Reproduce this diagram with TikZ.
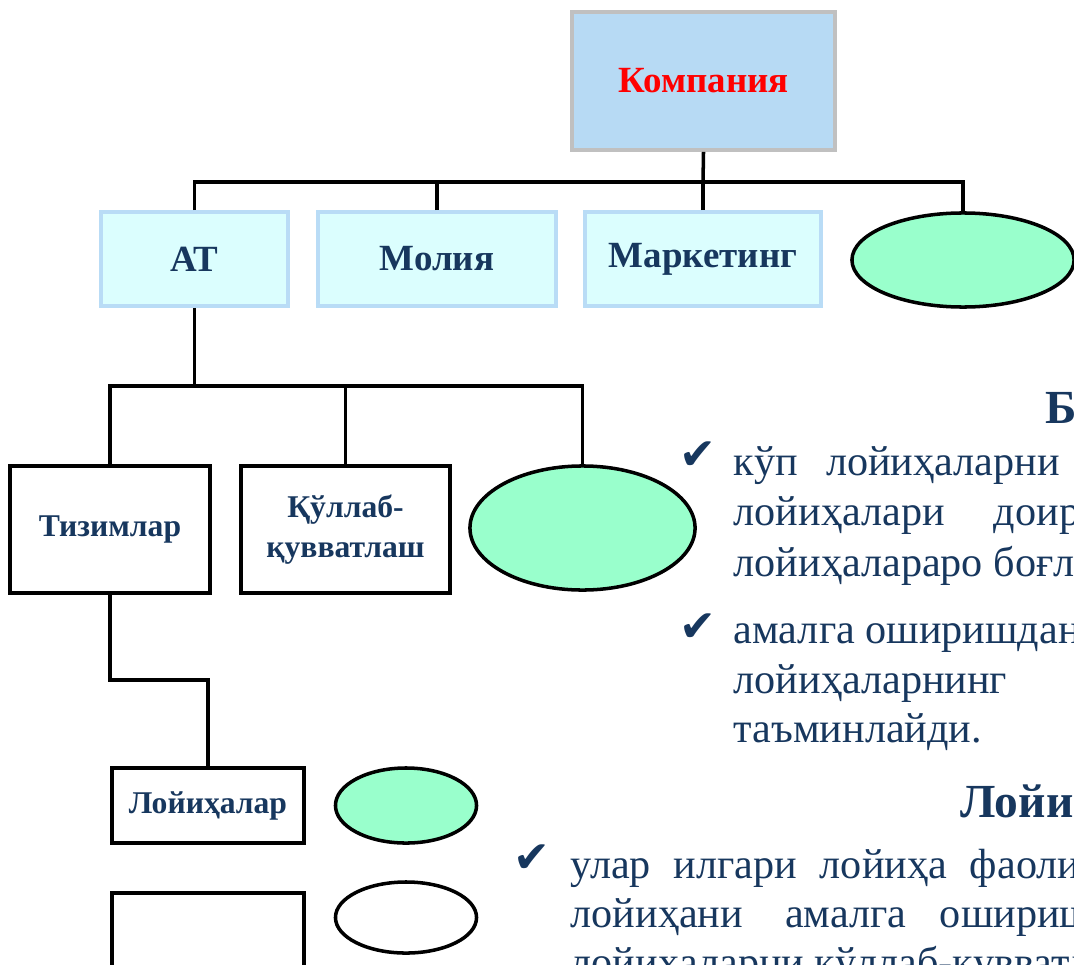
\documentclass[tikz,border=0pt]{standalone}
\usepackage{fontspec}
\setmainfont{Liberation Serif}
\newfontfamily\symfont{DejaVu Sans}
\usepackage{tikz}
\usetikzlibrary{shapes.geometric}

\definecolor{navy}{HTML}{17375E}
\definecolor{firmfill}{HTML}{B7DAF4}
\definecolor{firmline}{HTML}{C0C0C0}
\definecolor{deptfill}{HTML}{DBFEFE}
\definecolor{deptline}{HTML}{B9DCF6}
\definecolor{blobfill}{HTML}{99FFCC}

\begin{document}
\begin{tikzpicture}[
        x=0.01cm, y=-0.01cm,
        firm/.style={rectangle, draw=firmline, fill=firmfill, line width=1pt, inner sep=0, minimum width=2.63cm, minimum height=1.38cm, text=red, font=\bfseries\fontsize{10.5}{12}\selectfont},
        dept/.style={rectangle, draw=deptline, fill=deptfill, line width=1pt, inner sep=0, minimum height=0.94cm, text=navy, font=\bfseries\fontsize{10.5}{12}\selectfont},
        unit/.style={rectangle, draw=black, fill=white, line width=1pt, inner sep=0, align=center, text=navy, font=\bfseries\fontsize{9}{11.4}\selectfont},
        blob/.style={ellipse, draw=black, fill=blobfill, line width=1pt, inner sep=0},
        wire/.style={-, line width=1pt, black},
        body/.style={anchor=base west, inner sep=0, text=navy, font=\fontsize{12}{14}\selectfont},
        chk/.style={anchor=base west, inner sep=0, text=navy, font=\symfont\fontsize{12.5}{14}\selectfont},
        hdr/.style={anchor=base west, inner sep=0, text=navy, font=\bfseries\fontsize{13.5}{16}\selectfont}
    ]
        \useasboundingbox (0,0) rectangle (1074,964);
        \clip (0,0) rectangle (1074,964);

        % top level
        \node[firm](firm) at (703.5,81){Компания};
            \node[dept, minimum width=1.87cm](at) at (194.5,259){АТ};
            \node[dept, minimum width=2.38cm](molia) at (437,259){Молия};
            \node[dept, minimum width=2.36cm](mark) at (703,259){Маркетинг};
            \node[blob, minimum width=2.22cm, minimum height=0.94cm](ell1) at (963,260){};

        % second level
                \node[unit, minimum width=2.0cm, minimum height=1.27cm](tiz) at (110,529.5){Тизимлар};
                \node[unit, minimum width=2.09cm, minimum height=1.27cm](kul) at (345.5,529.5){Қўллаб-\\қувватлаш};
                \node[blob, minimum width=2.25cm, minimum height=1.24cm](ell2) at (582.5,528){};

        % third level
                   \node[unit, minimum width=1.92cm, minimum height=0.75cm](loy) at (208,805.5){Лойиҳалар};
                   \node[blob, minimum width=1.41cm, minimum height=0.75cm](ell3) at (406,805.5){};
                   \node[unit, minimum width=1.92cm, minimum height=1.2cm](blank) at (208,953){};
                   \node[blob, fill=white, minimum width=1.41cm, minimum height=0.71cm](ell4) at (406,917.5){};

        \coordinate (bus1) at (703,182);
        \coordinate (bus2) at (194.5,386);
        \coordinate (bend) at (110,680);

        \draw[wire] (firm.south) -- (bus1);
        \draw[wire] (at.north) |- (bus1) -| (ell1.north);
        \draw[wire] (molia.north) -- (molia.north |- bus1);
        \draw[wire] (mark.north) -- (bus1);
        \draw[wire] (at.south) -- (bus2);
        \draw[wire] (tiz.north) |- (bus2) -| (ell2.north);
        \draw[wire] (kul.north) -- (kul.north |- bus2);
        \draw[wire] (tiz.south) -- (bend) -| (loy.north);

        % text on the right
        \node[hdr](h1) at (1045,423){Б};
        \node[chk](c1) at (679,469){✔};
        \node[body](t1) at (733,475){кўп\hspace{8pt}лойиҳаларни};
        \node[body](t2) at (733,525){лойиҳалари\hspace{14pt}доир};
        \node[body](t3) at (733,576){лойиҳалараро боғл};
        \node[chk](c2) at (679,641){✔};
        \node[body](t4) at (733,643){амалга оширишдан};
        \node[body](t5) at (733,693){лойиҳаларнинг};
        \node[body](t6) at (733,742){таъминлайди.};

        \node[hdr](h2) at (960,817){Лойи};
        \node[chk](c3) at (513,872){✔};
        \node[body](t7) at (570,878){улар\hspace{6.5pt}илгари\hspace{6.5pt}лойиҳа\hspace{6.5pt}фаоли};
        \node[body](t8) at (570,927){лойиҳани\hspace{12pt}амалга\hspace{9.5pt}ошириш};
        \node[body](t9) at (570,976){лойиҳаларни қўллаб-қувватл};
    \end{tikzpicture}
\end{document}
